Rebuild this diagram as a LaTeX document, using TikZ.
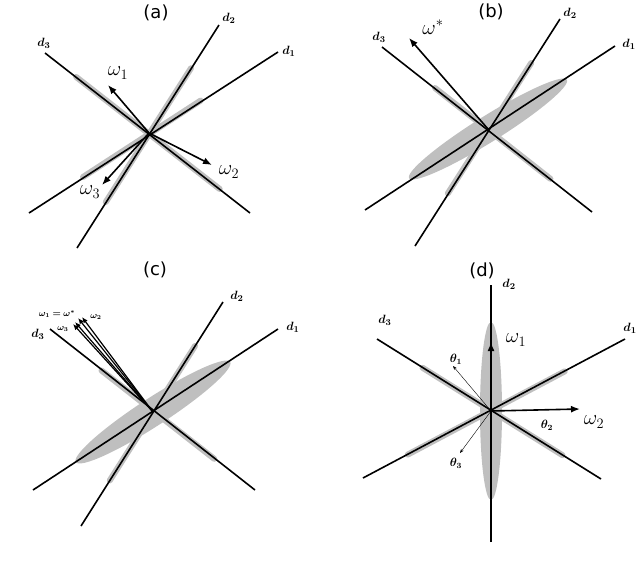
\documentclass[tikz,border=0pt]{standalone}
\usepackage{bm}
\usepackage{fontspec}
\usetikzlibrary{arrows.meta,calc}
\newfontfamily\ttlfont{DejaVu Sans}
\begin{document}
\begin{tikzpicture}[x=1pt,y=-1pt,
  ln/.style={line width=1.6pt},
  sh/.style={fill=black!25,draw=none},
  gs/.style={draw=black!25,line width=6pt,line cap=round},
  ar/.style={line width=1.6pt,-{Latex[length=9pt,width=7pt]}},
  thin/.style={line width=0.4pt,-{Stealth[length=4pt,width=3pt]}},
  ttl/.style={font=\ttlfont\fontsize{18}{20}\selectfont, inner sep=1pt},
  lb/.style={font=\fontsize{21}{22}\selectfont, inner sep=1pt},
  sl/.style={font=\fontsize{13}{14}\selectfont, inner sep=1pt},
  tl/.style={font=\fontsize{12}{13}\selectfont, inner sep=1pt},
  sc/.style={font=\fontsize{9}{10}\selectfont, inner sep=0pt}]
\useasboundingbox (0,0) rectangle (640,571);
% ---------- (a)
\coordinate (ca) at (149,133);
\coordinate (a1s) at (29,213); \coordinate (a1e) at (278,52);
\coordinate (a2s) at (77,248); \coordinate (a2e) at (219,25);
\coordinate (a3s) at (45,53); \coordinate (a3e) at (250,213);
\draw[gs] ($(ca)!0.55!(a1s)$)--($(ca)!0.4!(a1e)$);
\draw[gs] ($(ca)!0.6!(a2s)$)--($(ca)!0.6!(a2e)$);
\draw[gs] ($(ca)!0.7!(a3s)$)--($(ca)!0.7!(a3e)$);
\draw[ln] (a1s)--(a1e); \draw[ln] (a2s)--(a2e); \draw[ln] (a3s)--(a3e);
\draw[ar] (ca)--(108,85); \draw[ar] (ca)--(212,165); \draw[ar] (ca)--(102,185);
\node[ttl] (ta) at (156,13) {(a)};
\node[sl] (la3) at (44,43) {$\bm{d_3}$};
\node[sl] (la2) at (229,18) {$\bm{d_2}$};
\node[sl] (la1) at (289,51) {$\bm{d_1}$};
\node[lb] (lw1) at (118,73) {$\omega_1$};
\node[lb] (lw2) at (229,172) {$\omega_2$};
\node[lb] (lw3) at (90,192) {$\omega_3$};
% ---------- (b)
\coordinate (cb) at (488,129);
\coordinate (b1s) at (365,210); \coordinate (b1e) at (615,46);
\coordinate (b2s) at (415,246); \coordinate (b2e) at (560,19);
\coordinate (b3s) at (382,47); \coordinate (b3e) at (592,212);
\fill[sh,rotate around={32:(cb)}] (cb) ellipse (93 and 13);
\draw[gs] ($(cb)!0.55!(b2s)$)--($(cb)!0.6!(b2e)$);
\draw[gs] ($(cb)!0.5!(b3s)$)--($(cb)!0.6!(b3e)$);
\draw[ln] (b1s)--(b1e); \draw[ln] (b2s)--(b2e); \draw[ln] (b3s)--(b3e);
\draw[ar] (cb)--(409,38);
\node[ttl] (tb) at (491,12) {(b)};
\node[sl] at (379,37) {$\bm{d_3}$};
\node[lb] at (433,27) {$\omega^*$};
\node[sl] at (570,13) {$\bm{d_2}$};
\node[sl] at (629,44) {$\bm{d_1}$};
% ---------- (c)
\coordinate (cc) at (153,412);
\coordinate (c1s) at (33,490); \coordinate (c1e) at (278,329);
\coordinate (c2s) at (81,526); \coordinate (c2e) at (223,302);
\coordinate (c3s) at (50,329); \coordinate (c3e) at (255,490);
\fill[sh,rotate around={33:(cc)}] (cc) ellipse (92 and 14);
\draw[gs] ($(cc)!0.6!(c2s)$)--($(cc)!0.6!(c2e)$);
\draw[gs] ($(cc)!0.5!(c3s)$)--($(cc)!0.6!(c3e)$);
\draw[ln] (c1s)--(c1e); \draw[ln] (c2s)--(c2e); \draw[ln] (c3s)--(c3e);
\begin{scope}[line width=1.2pt,-{Latex[length=6pt,width=5pt]}]
\draw (cc)--(78,318);
\draw (cc)--(75,322);
\draw (cc)--(82,317);
\draw (cc)--(73,324);
\end{scope}
\node[ttl] (tc) at (155,270) {(c)};
\node[sl] at (237,296) {$\bm{d_2}$};
\node[sl] at (293,327) {$\bm{d_1}$};
\node[sl] at (38,334) {$\bm{d_3}$};
\node[sc] at (57,314) {$\bm{\omega_1=\omega^*}$};
\node[sc] at (96,317) {$\bm{\omega_2}$};
\node[sc] at (63,329) {$\bm{\omega_3}$};
% ---------- (d)
\coordinate (cd) at (491,411);
\coordinate (d1s) at (363,478); \coordinate (d1e) at (625,339);
\coordinate (d2s) at (491,542); \coordinate (d2e) at (491,285);
\coordinate (d3s) at (377,339); \coordinate (d3e) at (601,479);
\fill[sh] (cd) ellipse (11 and 89);
\draw[gs] ($(cd)!0.65!(d1s)$)--($(cd)!0.55!(d1e)$);
\draw[gs] ($(cd)!0.6!(d3s)$)--($(cd)!0.65!(d3e)$);
\draw[ln] (d1s)--(d1e); \draw[ln] (d2s)--(d2e); \draw[ln] (d3s)--(d3e);
\draw[ar] (cd)--(491,342);
\draw[ar] (cd)--(580,409);
\draw[thin] (cd)--(453,366);
\draw[thin] (cd)--(460,453);
\node[ttl] (td) at (482,271) {(d)};
\node[sl] at (509,284) {$\bm{d_2}$};
\node[sl] at (385,320) {$\bm{d_3}$};
\node[sl] at (630,328) {$\bm{d_1}$};
\node[lb] at (516,340) {$\omega_1$};
\node[lb] at (594,422) {$\omega_2$};
\node[tl] at (456,359) {$\bm{\theta_1}$};
\node[tl] at (547,425) {$\bm{\theta_2}$};
\node[tl] at (456,463) {$\bm{\theta_3}$};
\end{tikzpicture}
\end{document}
